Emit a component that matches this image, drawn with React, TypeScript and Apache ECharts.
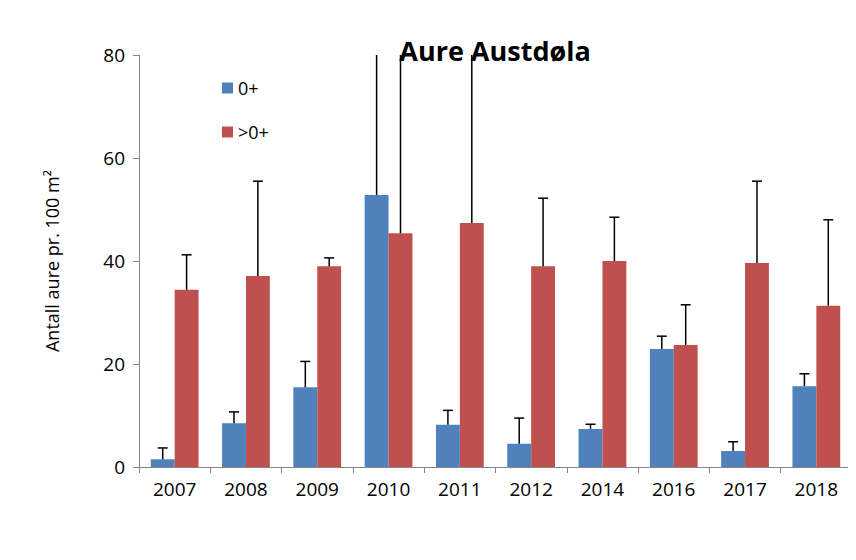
import React, { useEffect, useRef } from "react";
import * as echarts from "echarts";

const years = ["2007", "2008", "2009", "2010", "2011", "2012", "2014", "2016", "2017", "2018"];
const young = [1.5, 8.5, 15.5, 52.8, 8.2, 4.5, 7.4, 22.9, 3.1, 15.7];
const youngErr = [3.7, 10.7, 20.5, 95, 11, 9.5, 8.3, 25.4, 4.9, 18.1];
const older = [34.4, 37.1, 39, 45.4, 47.4, 39, 40, 23.7, 39.6, 31.3];
const olderErr = [41.2, 55.5, 40.6, 95, 95, 52.2, 48.5, 31.5, 55.5, 48];

const FONT = "'Open Sans', 'Liberation Sans', sans-serif";

function errSeries(vals: number[], tops: number[], side: number) {
  return {
    type: "custom",
    clip: true,
    z: 5,
    data: vals.map((v, i) => [i, v, tops[i]]),
    encode: { x: 0, y: 1 },
    renderItem: (params: any, api: any) => {
      const i = api.value(0);
      const catW = api.size([1, 0])[0];
      const bw = catW * 0.335;
      const base = api.coord([i, api.value(1)]);
      const top = api.coord([i, api.value(2)]);
      const x = base[0] + (side * bw) / 2;
      const cap = 5;
      return {
        type: "group",
        children: [
          { type: "line", shape: { x1: x, y1: base[1], x2: x, y2: top[1] }, style: { stroke: "#000", lineWidth: 1.5 } },
          { type: "line", shape: { x1: x - cap, y1: top[1], x2: x + cap, y2: top[1] }, style: { stroke: "#000", lineWidth: 1.5 } },
        ],
      };
    },
  };
}

export default function App() {
  const ref = useRef<HTMLDivElement>(null);
  useEffect(() => {
    const chart = echarts.init(ref.current!, undefined, { renderer: "svg" });
    chart.setOption({
      animation: false,
      textStyle: { fontFamily: FONT },
      graphic: {
        elements: [
          { type: "rect", left: 4, top: 4, shape: { x: 0, y: 0, width: 846, height: 550 }, style: { fill: "rgba(0,0,0,0)", stroke: "#8c8c8c", lineWidth: 1.5 }, silent: true },
        ],
      },
      title: {
        text: "Aure Austdøla",
        left: 490,
        top: 32,
        textAlign: "center",
        textStyle: { fontSize: 27, fontWeight: "bold", color: "#000", fontFamily: FONT },
      },
      legend: {
        orient: "vertical",
        left: 217,
        top: 74,
        itemGap: 26,
        itemWidth: 11,
        itemHeight: 11,
        icon: "rect",
        textStyle: { fontSize: 18, color: "#000", fontFamily: FONT },
        data: ["0+", ">0+"],
      },
      grid: { left: 139, right: 4, top: 55, bottom: 93 },
      xAxis: {
        type: "category",
        data: years,
        axisLine: { lineStyle: { color: "#868686" } },
        axisTick: { show: true, length: 6, lineStyle: { color: "#868686" } },
        axisLabel: { fontSize: 19, color: "#000", margin: 12 },
      },
      yAxis: {
        type: "value",
        min: 0,
        max: 80,
        interval: 20,
        name: "Antall aure pr. 100 m²",
        nameLocation: "middle",
        nameGap: 78,
        nameTextStyle: { fontSize: 18, color: "#000" },
        axisLine: { show: true, lineStyle: { color: "#868686" } },
        axisTick: { show: true, length: 6, lineStyle: { color: "#868686" } },
        axisLabel: { fontSize: 19, color: "#000", margin: 14 },
        splitLine: { show: false },
      },
      series: [
        { name: "0+", type: "bar", data: young, barGap: "0%", barCategoryGap: "33%", itemStyle: { color: "#4f81bd" } },
        { name: ">0+", type: "bar", data: older, barGap: "0%", barCategoryGap: "33%", itemStyle: { color: "#c0504d" } },
        errSeries(young, youngErr, -1),
        errSeries(older, olderErr, 1),
      ],
    });
    return () => chart.dispose();
  }, []);
  return (
    <div style={{ position: "relative", width: 840, height: 544 }}>
      <div ref={ref} style={{ position: "absolute", left: -8, top: -8, width: 856, height: 560 }} />
    </div>
  );
}
